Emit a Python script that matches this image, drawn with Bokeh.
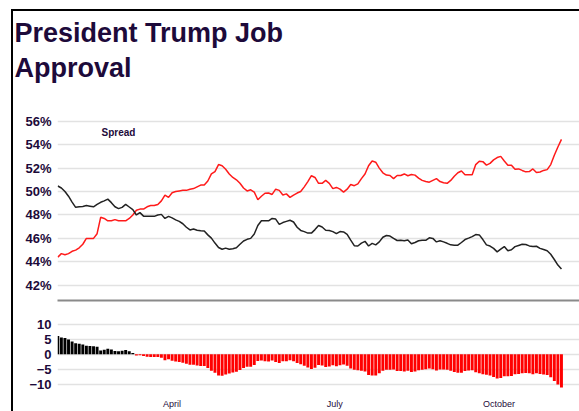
from datetime import datetime, timedelta
import pandas as pd
from bokeh.plotting import figure
from bokeh.layouts import column
from bokeh.models import (Range1d, Label, Title, FixedTicker, PrintfTickFormatter,
                          DatetimeTickFormatter, ColumnDataSource)
from bokeh.embed import file_html
from bokeh.resources import INLINE

# ---------------- data (RCP average, every 2 days from 27 Jan 2025) ----------------
start_date = "2025-01-27"
step_days = 2
approve = [
    50.47, 50.3, 50.0, 49.6, 49.1, 48.65, 48.7, 48.72, 48.8, 48.75,
    48.7, 48.9, 49.08, 49.2, 49.35, 49.05, 48.7, 48.54, 48.65, 48.9,
    48.68, 48.45, 48.0, 48.2, 47.9, 47.88, 47.88, 47.88, 48.0, 48.05,
    47.7, 47.88, 47.75, 47.58, 47.45, 47.25, 46.95, 46.72, 46.8, 46.7,
    46.65, 46.63, 46.3, 46.02, 45.6, 45.22, 45.07, 45.17, 45.07, 45.12,
    45.2, 45.5, 45.78, 45.92, 46.0, 46.38, 47.1, 47.5, 47.5, 47.5,
    47.7, 47.65, 47.2, 47.35, 47.45, 47.55, 47.4, 46.95, 46.68, 46.58,
    46.45, 46.45, 46.75, 47.1, 46.97, 46.7, 46.67, 46.58, 46.4, 46.58,
    46.55, 46.35, 45.85, 45.38, 45.35, 45.6, 45.75, 45.35, 45.58, 45.45,
    45.7, 46.1, 46.25, 46.2, 46.0, 45.82, 45.85, 45.8, 45.87, 45.55,
    45.65, 45.8, 45.84, 45.84, 46.05, 46.0, 45.7, 45.8, 45.7, 45.58,
    45.45, 45.42, 45.42, 45.65, 45.9, 46.02, 46.15, 46.33, 46.3, 45.9,
    45.45, 45.35, 45.15, 44.85, 45.08, 45.3, 44.95, 45.03, 45.3, 45.4,
    45.5, 45.48, 45.36, 45.3, 45.33, 45.15, 45.05, 44.95, 44.65, 44.2,
    43.72, 43.38,
]
disapprove = [
    44.4, 44.7, 44.6, 44.7, 44.9, 45.0, 45.2, 45.5, 46.0, 46.0,
    46.0, 46.4, 47.8, 47.7, 47.5, 47.5, 47.6, 47.5, 47.5, 47.5,
    47.7, 48.0, 48.4, 48.5, 48.5, 48.7, 48.8, 48.8, 48.9, 49.2,
    49.7, 49.5, 49.9, 50.0, 50.05, 50.1, 50.1, 50.2, 50.25, 50.4,
    50.55, 50.55, 50.9, 51.5, 51.7, 52.3, 52.2, 51.9, 51.5, 51.2,
    51.0, 50.7, 50.3, 50.05, 50.15, 49.95, 49.3, 49.6, 49.85, 49.87,
    49.75, 50.2, 50.1, 49.7, 49.8, 49.5, 49.7, 49.87, 50.0, 50.4,
    50.85, 51.35, 51.2, 50.7, 50.7, 50.95, 50.7, 50.25, 50.35, 50.2,
    49.95, 50.2, 50.6, 50.5, 50.65, 51.1, 51.5, 52.2, 52.6, 52.5,
    52.0, 51.6, 51.4, 51.37, 51.1, 51.37, 51.37, 51.5, 51.35, 51.45,
    51.4, 51.15, 50.95, 50.85, 50.8, 50.95, 51.1, 50.85, 50.75, 50.7,
    50.95, 51.3, 51.6, 51.75, 51.44, 51.44, 51.44, 52.3, 52.58, 52.55,
    52.25, 52.4, 52.7, 52.9, 53.0, 52.6, 52.25, 52.25, 51.9, 51.93,
    51.8, 51.68, 51.7, 51.93, 51.62, 51.67, 51.8, 51.87, 52.3, 53.1,
    53.8, 54.45,
]
assert len(approve) == len(disapprove)
pct_ticks = [42, 44, 46, 48, 50, 52, 54, 56]
spread_ticks = [-10, -5, 0, 5, 10]
month_ticks = ["2025-04-01", "2025-07-01", "2025-10-01"]
title_lines = ["President Trump Job", "Approval"]
spread_label = "Spread"

# ---------------- derived ----------------
dates = list(pd.date_range(start_date, periods=len(approve), freq=f"{step_days}D"))
spread = [round(a - d, 2) for a, d in zip(approve, disapprove)]

DARK = "#1d0a3a"
RED = "#ff1a1a"
GRID = "#e2e2e2"
FONT = "Liberation Sans"
t0 = datetime(2025, 1, 27)
xr = Range1d(start=t0 - timedelta(hours=4), end=t0 + timedelta(days=292.1))

W = 566

# ---------------- title block (titles on an empty plot) ----------------
p0 = figure(width=W, height=98, x_range=xr, y_range=Range1d(0, 1),
            output_backend="svg", toolbar_location=None,
            min_border_left=44, min_border_right=0, min_border_top=0, min_border_bottom=0)
p0.axis.visible = False
p0.grid.visible = False
p0.outline_line_color = None
t_low = Title(text=title_lines[1], text_font=FONT, text_font_size="27px",
              text_font_style="bold", text_color=DARK, align="left", offset=-43,
              standoff=0, vertical_align="top")
t_up = Title(text=title_lines[0], text_font=FONT, text_font_size="27px",
             text_font_style="bold", text_color=DARK, align="left", offset=-43,
             standoff=9, vertical_align="bottom")
p0.add_layout(t_low, "above")
p0.add_layout(t_up, "above")


def style_y(ax):
    ax.major_label_text_font = FONT
    ax.major_label_text_font_size = "13px"
    ax.major_label_text_font_style = "bold"
    ax.major_label_text_color = DARK
    ax.axis_line_color = None
    ax.major_tick_line_color = None
    ax.minor_tick_line_color = None
    ax.major_tick_out = 0
    ax.minor_tick_out = 0
    ax.major_label_standoff = 6


# ---------------- top chart ----------------
p1 = figure(width=W, height=193, x_range=xr, y_range=Range1d(40.7, 57.0),
            x_axis_type="datetime", output_backend="svg", toolbar_location=None,
            min_border_left=44, min_border_right=0, min_border_bottom=2, min_border_top=0)
p1.line(dates, disapprove, line_color=RED, line_width=1.5)
p1.line(dates, approve, line_color="#222222", line_width=1.5)

lbl = Label(x=t0 + timedelta(days=34), y=55.0, text=spread_label, text_align="center",
            text_baseline="middle", text_font=FONT, text_font_size="10px",
            text_font_style="bold", text_color=DARK)
p1.add_layout(lbl)

p1.yaxis.ticker = FixedTicker(ticks=pct_ticks)
p1.yaxis.formatter = PrintfTickFormatter(format="%d%%")
style_y(p1.yaxis[0])
p1.xaxis.ticker = FixedTicker(ticks=[])
p1.xaxis.major_tick_line_color = None
p1.xaxis.minor_tick_line_color = None
p1.xaxis.major_tick_out = 0
p1.xaxis.minor_tick_out = 0
p1.xaxis.major_label_standoff = 0
p1.xaxis.axis_line_color = "#8a8a8a"
p1.xaxis.axis_line_width = 2
p1.xgrid.grid_line_color = None
p1.ygrid.grid_line_color = GRID
p1.ygrid.grid_line_width = 1.5
p1.outline_line_color = None

# ---------------- spread chart ----------------
src = ColumnDataSource(dict(date=dates, spread=spread,
                            color=["#000000" if s >= 0 else "#ff0000" for s in spread]))
p2 = figure(width=W, height=109, x_range=xr, y_range=Range1d(-12.7, 16.2),
            x_axis_type="datetime", output_backend="svg", toolbar_location=None,
            min_border_left=44, min_border_right=0, min_border_bottom=15, min_border_top=3)
p2.vbar(x="date", top="spread", bottom=0, width=step_days * 86400000 * 0.82,
        fill_color="color", line_color=None, source=src)
p2.yaxis.ticker = FixedTicker(ticks=spread_ticks)
style_y(p2.yaxis[0])
p2.xaxis.ticker = FixedTicker(ticks=[pd.Timestamp(m).value // 10**6 for m in month_ticks])
p2.xaxis.formatter = DatetimeTickFormatter(days="%B", months="%B", years="%B")
p2.xaxis.major_label_text_font = FONT
p2.xaxis.major_label_text_font_size = "9px"
p2.xaxis.major_label_text_color = DARK
p2.xaxis.axis_line_color = None
p2.xaxis.major_tick_line_color = None
p2.xaxis.minor_tick_line_color = None
p2.xaxis.major_tick_out = 0
p2.xaxis.minor_tick_out = 0
p2.xaxis.major_label_standoff = 6
p2.xgrid.grid_line_color = None
p2.ygrid.grid_line_color = GRID
p2.ygrid.grid_line_width = 1.5
p2.outline_line_color = None

layout = column(p0, p1, p2, styles={"margin-left": "11px", "margin-top": "9px",
                                    "border-left": "2px solid #000", "border-top": "2px solid #000"})
open("out.html", "w").write(file_html(layout, INLINE))
